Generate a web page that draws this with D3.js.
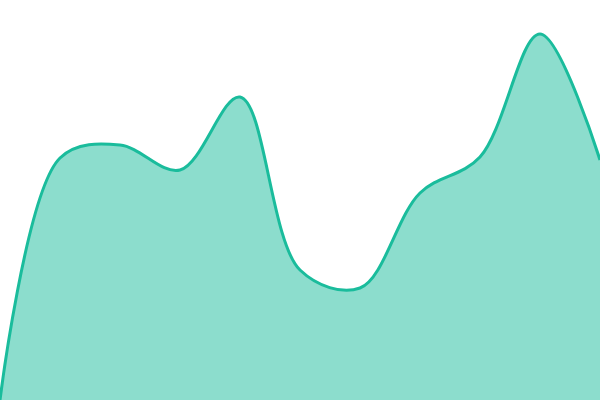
<!DOCTYPE html>
<html>
<head>
<meta charset="utf-8">
<script src="https://cdn.jsdelivr.net/npm/d3@7"></script>
<style>
    html, body { margin: 0; padding: 0; background: #fff; }
    svg { display: block; }
</style>
</head>
<body>
<svg id="chart" width="600" height="400"></svg>
<script>
// data
const steps = [0, 1, 2, 3, 4, 5, 6, 7, 8, 9, 10];
const values = [0, 242, 255, 230, 303, 130, 112, 207, 243, 366, 240];

const svg = d3.select("#chart");
const w = 600, h = 400;

// scales
const x = d3.scaleLinear()
    .domain([0, steps.length - 1])
    .range([0, w]);

const y = d3.scaleLinear()
    .domain([0, 400])
    .range([h, 0]);

const points = steps.map((s, i) => ({step: s, value: values[i]}));

// area
const area = d3.area()
    .curve(d3.curveCatmullRom)
    .x(d => x(d.step))
    .y0(h)
    .y1(d => y(d.value));

svg.append("path")
    .datum(points)
    .attr("d", area)
    .style("fill", "#1abc9c")
    .style("fill-opacity", 0.5);

// line
const line = d3.line()
    .curve(d3.curveCatmullRom)
    .x(d => x(d.step))
    .y(d => y(d.value));

svg.append("path")
    .datum(points)
    .attr("d", line)
    .style("fill", "none")
    .style("stroke", "#1abc9c")
    .style("stroke-width", 3);
</script>
</body>
</html>
